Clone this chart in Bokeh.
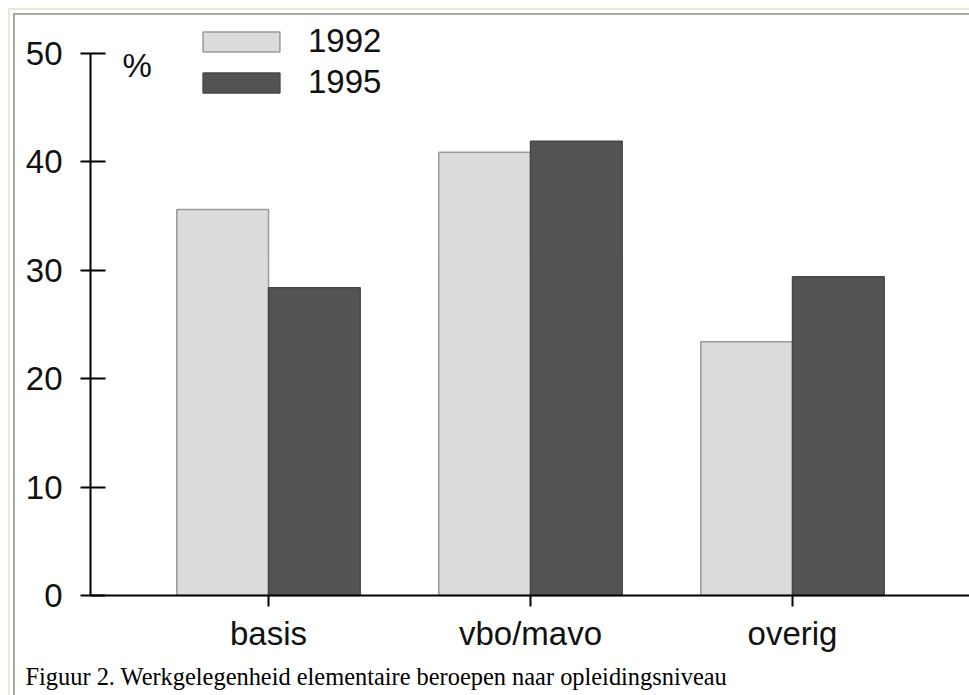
from bokeh.plotting import figure
from bokeh.models import (Range1d, FixedTicker, Legend, LegendItem, Label, ColumnDataSource)
from bokeh.transform import dodge
from bokeh.embed import file_html
from bokeh.resources import INLINE

# ---- data ----
categories = ["basis", "vbo/mavo", "overig"]
years = ["1992", "1995"]
values_1992 = [35.6, 40.9, 23.4]
values_1995 = [28.4, 41.9, 29.4]
y_ticks = [0, 10, 20, 30, 40, 50]
y_unit = "%"
caption = "Figuur 2. Werkgelegenheid elementaire beroepen naar opleidingsniveau"

SANS = "Liberation Sans"
SERIF = "Liberation Serif"

positions = list(range(len(categories)))

W, H = 969, 695
PX_X = 262.0     # pixels per category
PX_Y = 10.84     # pixels per percent
X0_PX, Y0_PX = 268.0, 595.0   # pixel position of first category / zero line

x_range = Range1d(-X0_PX / PX_X, (W - X0_PX) / PX_X)
y_range = Range1d(-(H - Y0_PX) / PX_Y, Y0_PX / PX_Y)

p = figure(width=W, height=H, output_backend="svg", toolbar_location=None,
           x_range=x_range, y_range=y_range,
           min_border_left=0, min_border_right=0, min_border_top=0, min_border_bottom=0)

p.background_fill_color = None
p.border_fill_color = None
p.outline_line_color = None
p.xgrid.visible = False
p.ygrid.visible = False
p.styles = {"background-color": "white",
            "box-shadow": ("inset 8px 8px 0 0 #FFFFFF, inset 10px 10px 0 0 #ECE9D8, "
                           "inset 13px 13px 0 0 #FFFFFF, inset 15px 15px 0 0 #A9A9A4")}

src = ColumnDataSource(dict(x=positions, y1992=values_1992, y1995=values_1995))
w = 0.35
r1 = p.vbar(x=dodge("x", -w / 2), top="y1992", width=w, source=src,
            fill_color="#DCDCDC", line_color="#9A9A9A", line_width=1.5)
r2 = p.vbar(x=dodge("x", w / 2), top="y1995", width=w, source=src,
            fill_color="#535353", line_color="#474747", line_width=1.5)

y_axis_x = (90 - X0_PX) / PX_X

# axes
xa = p.xaxis[0]
xa.fixed_location = 0
xa.bounds = (y_axis_x, x_range.end)
xa.ticker = FixedTicker(ticks=positions)
xa.major_label_overrides = {i: c for i, c in zip(positions, categories)}
xa.minor_tick_line_color = None
xa.major_tick_in = 0
xa.major_tick_out = 11
xa.major_tick_line_width = 2
xa.axis_line_width = 2
xa.axis_line_color = "black"
xa.major_tick_line_color = "black"
xa.major_label_text_font = SANS
xa.major_label_text_font_size = "33px"
xa.major_label_text_color = "#111111"
xa.major_label_standoff = 8

ya = p.yaxis[0]
ya.fixed_location = y_axis_x
ya.bounds = (0, 50)
ya.ticker = FixedTicker(ticks=y_ticks)
ya.minor_tick_line_color = None
ya.major_tick_in = 15
ya.major_tick_out = 10
ya.major_tick_line_width = 2
ya.axis_line_width = 2
ya.axis_line_color = "black"
ya.major_tick_line_color = "black"
ya.major_label_text_font = SANS
ya.major_label_text_font_size = "33px"
ya.major_label_text_color = "#111111"
ya.major_label_standoff = 18

# unit label
p.add_layout(Label(x=(122 - X0_PX) / PX_X, y=(Y0_PX - 65) / PX_Y, text=y_unit,
                   text_font=SANS, text_font_size="33px",
                   text_color="#111111", text_baseline="alphabetic"))

# caption
p.add_layout(Label(x=(25 - X0_PX) / PX_X, y=(Y0_PX - 676) / PX_Y, text=caption,
                   text_font=SERIF, text_font_size="24.4px",
                   text_color="black", text_baseline="alphabetic"))

legend = Legend(items=[LegendItem(label=years[0], renderers=[r1]),
                       LegendItem(label=years[1], renderers=[r2])],
                location=(193, H - 101), glyph_width=96, glyph_height=25, label_standoff=19,
                label_text_font=SANS, label_text_font_size="33px", label_text_color="#111111",
                spacing=3, padding=0, margin=0, border_line_color=None, background_fill_alpha=0)
p.add_layout(legend)

open("out.html", "w").write(file_html(p, INLINE))
